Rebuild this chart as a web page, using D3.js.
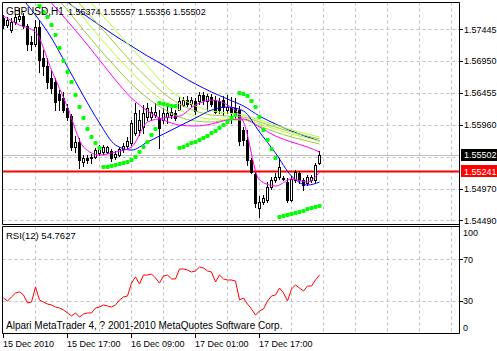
<!DOCTYPE html>
<html>
<head>
<meta charset="utf-8">
<script src="https://cdn.jsdelivr.net/npm/d3@7"></script>
<style>
  body { margin: 0; background: #fff; }
  svg { display: block; }
  text { font-family: "Liberation Sans", Arial, sans-serif; font-size: 9px; fill: #000; }
</style>
</head>
<body>
<div id="wrapper"></div>
<script>
// ---- data ----
const symbolName = "GBPUSD,H1"
const lastQuote = "1.55374 1.55557 1.55356 1.55502"
const rsiTitle = "RSI(12) 54.7627"
const copyright = "Alpari MetaTrader 4, ? 2001-2010 MetaQuotes Software Corp."

const dateLabels = ["15 Dec 2010", "15 Dec 17:00", "16 Dec 09:00", "17 Dec 01:00", "17 Dec 17:00"]
const dateTickBars = [0, 16, 32, 48, 64]

const priceTicks = [1.57445, 1.56950, 1.56455, 1.55960, 1.54970, 1.54490]
const priceGrid = [1.57445, 1.56950, 1.56455, 1.55960, 1.55465, 1.54970, 1.54490]
const rsiTicks = [100, 70, 30, 0]
const rsiGrid = [70, 30]

const bidPrice = 1.55502
const levelPrice = 1.55241

const opens = [
  1.57615, 1.57506, 1.57429, 1.57553, 1.57599, 1.57645, 1.57491, 1.57243, 1.57212, 1.57475,
  1.56996, 1.56872, 1.56686, 1.56624, 1.56439, 1.56377, 1.56222, 1.56098, 1.55619, 1.55696,
  1.55387, 1.55449, 1.55449, 1.55464, 1.55526, 1.55542, 1.55542, 1.55557, 1.55464, 1.55495,
  1.55588, 1.55634, 1.55681, 1.55835, 1.55882, 1.55928, 1.56083, 1.56083, 1.56114, 1.56068,
  1.56037, 1.56083, 1.56114, 1.56145, 1.56191, 1.56269, 1.56346, 1.56284, 1.56331, 1.56331,
  1.56423, 1.56331, 1.56392, 1.56346, 1.56331, 1.56346, 1.56191, 1.56238, 1.56222, 1.56191,
  1.55882, 1.55727, 1.55418, 1.55201, 1.54675, 1.54768, 1.54799, 1.55000, 1.55108, 1.55155,
  1.55139, 1.55077, 1.54799, 1.55108, 1.55217, 1.55108, 1.55062, 1.55108, 1.55108, 1.55374
]
const highs = [
  1.57661, 1.57630, 1.57615, 1.57676, 1.57769, 1.57692, 1.57522, 1.57336, 1.57584, 1.57584,
  1.57119, 1.56996, 1.56810, 1.56686, 1.56501, 1.56470, 1.56284, 1.56129, 1.55789, 1.55758,
  1.55495, 1.55495, 1.55511, 1.55603, 1.55650, 1.55650, 1.55634, 1.55588, 1.55557, 1.55619,
  1.55681, 1.55774, 1.56037, 1.56300, 1.56191, 1.56269, 1.56300, 1.56238, 1.56300, 1.56191,
  1.56222, 1.56238, 1.56222, 1.56191, 1.56392, 1.56392, 1.56408, 1.56392, 1.56377, 1.56470,
  1.56470, 1.56439, 1.56439, 1.56408, 1.56377, 1.56408, 1.56423, 1.56392, 1.56377, 1.56253,
  1.55928, 1.55882, 1.55449, 1.55232, 1.54861, 1.54876, 1.55077, 1.55155, 1.55217, 1.55449,
  1.55170, 1.55139, 1.55170, 1.55263, 1.55248, 1.55139, 1.55186, 1.55186, 1.55371, 1.55557
]
const lows = [
  1.57460, 1.57475, 1.57398, 1.57522, 1.57568, 1.57460, 1.57119, 1.57119, 1.57181, 1.56779,
  1.56733, 1.56532, 1.56454, 1.56191, 1.56191, 1.56160, 1.56037, 1.55572, 1.55542, 1.55294,
  1.55325, 1.55371, 1.55371, 1.55449, 1.55495, 1.55511, 1.55526, 1.55402, 1.55433, 1.55480,
  1.55542, 1.55603, 1.55650, 1.55805, 1.55805, 1.55835, 1.56037, 1.56037, 1.56083, 1.55603,
  1.55990, 1.55990, 1.56068, 1.56037, 1.56191, 1.56253, 1.56253, 1.56253, 1.56129, 1.56284,
  1.56284, 1.56191, 1.56253, 1.56145, 1.56145, 1.56114, 1.56145, 1.55990, 1.56068, 1.55650,
  1.55650, 1.55340, 1.55217, 1.54691, 1.54536, 1.54737, 1.54768, 1.54969, 1.55077, 1.55124,
  1.55108, 1.54768, 1.54784, 1.55077, 1.55062, 1.54954, 1.55031, 1.55077, 1.55077, 1.55356
]
const closes = [
  1.57506, 1.57584, 1.57553, 1.57630, 1.57645, 1.57491, 1.57212, 1.57212, 1.57475, 1.56965,
  1.56872, 1.56624, 1.56532, 1.56315, 1.56346, 1.56191, 1.56083, 1.55619, 1.55696, 1.55418,
  1.55449, 1.55418, 1.55464, 1.55572, 1.55603, 1.55619, 1.55619, 1.55449, 1.55511, 1.55588,
  1.55634, 1.55712, 1.55990, 1.56145, 1.56037, 1.56145, 1.56222, 1.56160, 1.56160, 1.55913,
  1.56145, 1.56145, 1.56160, 1.56068, 1.56331, 1.56346, 1.56284, 1.56346, 1.56176, 1.56423,
  1.56346, 1.56408, 1.56284, 1.56160, 1.56191, 1.56238, 1.56238, 1.56160, 1.56145, 1.55712,
  1.55727, 1.55418, 1.55232, 1.54753, 1.54768, 1.54830, 1.55000, 1.55108, 1.55155, 1.55310,
  1.55130, 1.54799, 1.55124, 1.55232, 1.55108, 1.55031, 1.55155, 1.55155, 1.55340, 1.55502
]

// parabolic SAR, one value per bar (null = not visible)
const sar = [
  null, null, null, null, null, null, null, null, null, 1.57800,
  1.57707, 1.57630, 1.57506, 1.57352, 1.57150, 1.56949, 1.56779, 1.56624, 1.56423, 1.56238,
  1.56068, 1.55897, 1.55774, 1.55681, 1.55603, 1.55310, 1.55310, 1.55325, 1.55340, 1.55356,
  1.55371, 1.55387, 1.55418, 1.55464, 1.55542, 1.55619, 1.55696, 1.55805, 1.55897, 1.56300,
  1.56284, 1.56269, 1.56253, 1.56253, 1.55603, 1.55619, 1.55650, 1.55681, 1.55696, 1.55727,
  1.55758, 1.55789, 1.55835, 1.55866, 1.55913, 1.55959, 1.56006, 1.56068, 1.56114, 1.56454,
  1.56439, 1.56408, 1.56331, 1.56238, 1.56083, 1.55882, 1.55727, 1.55588, 1.55449, 1.54536,
  1.54551, 1.54567, 1.54582, 1.54598, 1.54613, 1.54629, 1.54660, 1.54675, 1.54691, 1.54706
]

// moving averages, read at every 4th bar
const maBars = [0, 4, 8, 12, 16, 20, 24, 28, 32, 36, 40, 44, 48, 52, 56, 60, 64, 68, 72, 76, 79]
const maFastMagenta = [1.57645, 1.57506, 1.57398, 1.56810, 1.56238, 1.55619, 1.55495, 1.55542, 1.55619, 1.56006, 1.56068, 1.56098, 1.56269, 1.56346, 1.56269, 1.56006, 1.55108, 1.55016, 1.55124, 1.55077, 1.55232]
const maFastBlue = [1.58280, 1.57970, 1.57661, 1.57305, 1.56857, 1.56408, 1.55990, 1.55650, 1.55572, 1.55696, 1.55820, 1.55944, 1.56068, 1.56191, 1.56238, 1.56176, 1.55851, 1.55526, 1.55170, 1.55031, 1.55077]
const maSlowMagenta = [1.58744, 1.58434, 1.58125, 1.57847, 1.57568, 1.57274, 1.56965, 1.56655, 1.56377, 1.56176, 1.56037, 1.55959, 1.55944, 1.55975, 1.56037, 1.56052, 1.55928, 1.55789, 1.55696, 1.55619, 1.55542]
const maGreen1 = [null, null, 1.58295, 1.58017, 1.57738, 1.57429, 1.57135, 1.56857, 1.56594, 1.56377, 1.56207, 1.56083, 1.56021, 1.56006, 1.56037, 1.56037, 1.55944, 1.55851, 1.55774, 1.55712, 1.55665]
const maGreen2 = [null, null, null, 1.58171, 1.57893, 1.57615, 1.57321, 1.57042, 1.56779, 1.56532, 1.56331, 1.56191, 1.56098, 1.56052, 1.56052, 1.56052, 1.55975, 1.55897, 1.55820, 1.55758, 1.55712]
const maGreen3 = [null, null, null, 1.58326, 1.58048, 1.57769, 1.57491, 1.57212, 1.56934, 1.56686, 1.56454, 1.56284, 1.56176, 1.56114, 1.56098, 1.56083, 1.56006, 1.55928, 1.55851, 1.55789, 1.55743]
const maGreen4 = [null, null, null, null, 1.58233, 1.57970, 1.57707, 1.57429, 1.57150, 1.56872, 1.56594, 1.56392, 1.56253, 1.56176, 1.56145, 1.56114, 1.56037, 1.55959, 1.55882, 1.55820, 1.55774]
const maSlowBlue = [null, null, 1.58233, 1.58048, 1.57862, 1.57676, 1.57506, 1.57336, 1.57181, 1.57027, 1.56887, 1.56733, 1.56594, 1.56470, 1.56361, 1.56253, 1.56098, 1.55975, 1.55866, 1.55774, 1.55712]

const rsi = [
  32.7, 29.8, 33.7, 37.5, 38.5, 35.6, 27.9, 28.8, 43.3, 30.8,
  28.8, 26.9, 26.0, 24.0, 23.1, 21.2, 18.3, 15.4, 18.3, 14.4,
  17.3, 18.3, 18.3, 23.1, 24.0, 26.0, 25.0, 24.0, 26.0, 30.8,
  33.7, 34.6, 47.1, 52.9, 46.2, 54.8, 54.8, 55.8, 51.9, 47.1,
  53.8, 54.8, 51.0, 51.0, 60.6, 60.6, 59.6, 57.7, 58.7, 62.5,
  61.5, 58.7, 57.7, 48.1, 54.8, 51.0, 50.0, 50.0, 49.0, 30.8,
  32.7, 26.9, 22.1, 16.3, 20.2, 22.1, 29.8, 34.6, 35.6, 42.3,
  37.5, 29.8, 41.3, 45.2, 42.3, 39.4, 44.2, 44.2, 50.0, 54.76
]

// ---- layout ----
const width = 497
const height = 351
const frame = { left: 2.5, right: 459.5, mainTop: 2.5, mainBottom: 224.5, rsiTop: 226.5, rsiBottom: 333.5 }

const gridColor = "#c0c0c0"
const sarColor = "#00ff00"

const svg = d3.select("#wrapper")
  .append("svg")
    .attr("width", width)
    .attr("height", height)

const xScale = d3.scaleLinear()
  .domain([0, 114])
  .range([3, 459])

const yScale = d3.scaleLinear()
  .domain([1.54490, 1.57445])
  .range([220, 29])

const rsiScale = d3.scaleLinear()
  .domain([0, 100])
  .range([332, 228])

const py = v => Math.round(yScale(v))

const defs = svg.append("defs")
defs.append("clipPath").attr("id", "clip-main")
  .append("rect")
    .attr("x", 3).attr("y", 3)
    .attr("width", 456).attr("height", 221)
defs.append("clipPath").attr("id", "clip-rsi")
  .append("rect")
    .attr("x", 3).attr("y", 227)
    .attr("width", 456).attr("height", 106)

// grid
const gridBars = d3.range(8, 113, 8)
const grid = svg.append("g")
  .attr("stroke", gridColor)
  .attr("stroke-dasharray", "3,3")

grid.selectAll(".vmain")
  .data(gridBars)
  .enter().append("line")
    .attr("x1", d => xScale(d) + 0.5).attr("x2", d => xScale(d) + 0.5)
    .attr("y1", frame.mainTop).attr("y2", frame.mainBottom)

grid.selectAll(".vrsi")
  .data(gridBars)
  .enter().append("line")
    .attr("x1", d => xScale(d) + 0.5).attr("x2", d => xScale(d) + 0.5)
    .attr("y1", frame.rsiTop).attr("y2", frame.rsiBottom)

grid.selectAll(".hmain")
  .data(priceGrid)
  .enter().append("line")
    .attr("x1", frame.left).attr("x2", frame.right)
    .attr("y1", d => py(d) + 0.5).attr("y2", d => py(d) + 0.5)

grid.selectAll(".hrsi")
  .data(rsiGrid)
  .enter().append("line")
    .attr("x1", frame.left).attr("x2", frame.right)
    .attr("y1", d => Math.round(rsiScale(d)) + 0.5).attr("y2", d => Math.round(rsiScale(d)) + 0.5)

// main panel
const main = svg.append("g").attr("clip-path", "url(#clip-main)")

main.append("line")
  .attr("x1", frame.left).attr("x2", frame.right)
  .attr("y1", py(bidPrice) + 0.5).attr("y2", py(bidPrice) + 0.5)
  .attr("stroke", gridColor)

main.append("line")
  .attr("x1", frame.left).attr("x2", frame.right)
  .attr("y1", yScale(levelPrice)).attr("y2", yScale(levelPrice))
  .attr("stroke", "#ff0000")
  .attr("stroke-width", 2)

const bars = d3.range(opens.length)

main.selectAll(".wick")
  .data(bars)
  .enter().append("line")
    .attr("x1", i => xScale(i) + 0.5).attr("x2", i => xScale(i) + 0.5)
    .attr("y1", i => py(highs[i])).attr("y2", i => py(lows[i]) + 1)
    .attr("stroke", "#000")

main.selectAll(".body")
  .data(bars)
  .enter().append("rect")
    .attr("x", i => xScale(i) - 0.5)
    .attr("y", i => py(Math.max(opens[i], closes[i])) + 0.5)
    .attr("width", 2)
    .attr("height", i => Math.abs(py(opens[i]) - py(closes[i])))
    .attr("fill", i => closes[i] >= opens[i] ? "#fff" : "#000")
    .attr("stroke", "#000")

const maLine = d3.line()
  .defined(d => d.v != null)
  .x(d => xScale(d.bar) + 0.5)
  .y(d => yScale(d.v))
  .curve(d3.curveMonotoneX)

const maSeries = [
  { values: maSlowBlue, color: "#0000ff" },
  { values: maGreen4, color: "#adff2f" },
  { values: maGreen3, color: "#9acd32" },
  { values: maGreen2, color: "#adff2f" },
  { values: maGreen1, color: "#9acd32" },
  { values: maSlowMagenta, color: "#ff00ff" },
  { values: maFastBlue, color: "#0000ff" },
  { values: maFastMagenta, color: "#ff00ff" }
]

main.selectAll(".ma")
  .data(maSeries)
  .enter().append("path")
    .attr("d", s => maLine(maBars.map((b, i) => ({ bar: b, v: s.values[i] }))))
    .attr("fill", "none")
    .attr("stroke", s => s.color)
    .attr("stroke-width", 1)

main.selectAll(".sar")
  .data(bars.filter(i => sar[i] != null))
  .enter().append("rect")
    .attr("x", i => xScale(i) - 1.5)
    .attr("y", i => yScale(sar[i]) - 2)
    .attr("width", 4)
    .attr("height", 4)
    .attr("rx", 1.2)
    .attr("fill", sarColor)

// rsi panel
const rsiLine = d3.line()
  .x((d, i) => xScale(i) + 0.5)
  .y(d => rsiScale(d))

svg.append("g").attr("clip-path", "url(#clip-rsi)")
  .append("path")
    .attr("d", rsiLine(rsi))
    .attr("fill", "none")
    .attr("stroke", "#ff0000")
    .attr("stroke-width", 1)

// frames
const frames = svg.append("g").attr("stroke", "#000").attr("fill", "none")
frames.append("path")
  .attr("d", `M${frame.right},${frame.mainTop} H${frame.left} V${frame.mainBottom} H${frame.right}`)
frames.append("path")
  .attr("d", `M${frame.right},${frame.rsiTop} H${frame.left} V${frame.rsiBottom} H${frame.right}`)
frames.append("line")
  .attr("x1", frame.right).attr("x2", frame.right)
  .attr("y1", frame.mainTop).attr("y2", frame.rsiBottom)

// price axis
const priceAxis = svg.append("g")
priceAxis.selectAll("line")
  .data(priceTicks)
  .enter().append("line")
    .attr("x1", 460).attr("x2", 463)
    .attr("y1", d => py(d) + 0.5).attr("y2", d => py(d) + 0.5)
    .attr("stroke", "#000")
priceAxis.selectAll("text")
  .data(priceTicks)
  .enter().append("text")
    .attr("x", 464)
    .attr("y", d => yScale(d) + 3.5)
    .text(d => d.toFixed(5))

const markers = [
  { price: bidPrice, fill: "#000" },
  { price: levelPrice, fill: "#ff0000" }
]
const marker = svg.selectAll(".marker")
  .data(markers)
  .enter().append("g")
marker.append("rect")
  .attr("x", 461)
  .attr("y", d => Math.round(yScale(d.price)) - 6)
  .attr("width", 36)
  .attr("height", 12)
  .attr("fill", d => d.fill)
marker.append("text")
  .attr("x", 464)
  .attr("y", d => yScale(d.price) + 3.5)
  .style("fill", "#fff")
  .text(d => d.price.toFixed(5))

// rsi axis
const rsiAxis = svg.append("g")
rsiAxis.selectAll("line")
  .data(rsiGrid)
  .enter().append("line")
    .attr("x1", 460).attr("x2", 463)
    .attr("y1", d => Math.round(rsiScale(d)) + 0.5).attr("y2", d => Math.round(rsiScale(d)) + 0.5)
    .attr("stroke", "#000")
rsiAxis.selectAll("text")
  .data(rsiTicks)
  .enter().append("text")
    .attr("x", 463)
    .attr("y", d => Math.min(Math.max(rsiScale(d) + 3.5, 236), 330.5))
    .text(d => d)

// time axis
const timeAxis = svg.append("g")
timeAxis.selectAll("line")
  .data(dateTickBars)
  .enter().append("line")
    .attr("x1", d => xScale(d) + 0.5).attr("x2", d => xScale(d) + 0.5)
    .attr("y1", 333).attr("y2", 338)
    .attr("stroke", "#000")
timeAxis.selectAll("text")
  .data(dateTickBars)
  .enter().append("text")
    .attr("x", d => xScale(d))
    .attr("y", 347)
    .text((d, i) => dateLabels[i])

// captions
svg.append("text").attr("x", 6).attr("y", 15).style("font-size", "10px").text(symbolName)
svg.append("text").attr("x", 68).attr("y", 15).text(lastQuote)
svg.append("text").attr("x", 6).attr("y", 239).style("font-size", "9.5px").text(rsiTitle)
svg.append("text").attr("x", 6).attr("y", 329).style("font-size", "10px").text(copyright)
</script>
</body>
</html>
